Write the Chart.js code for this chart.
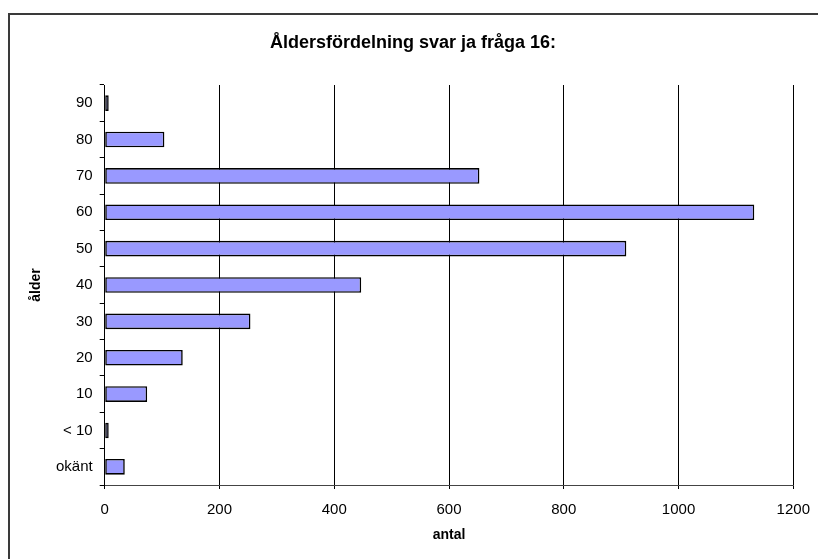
<!DOCTYPE html>
<html>
<head>
<meta charset="utf-8">
<script src="https://cdn.jsdelivr.net/npm/chart.js@4/dist/chart.umd.min.js"></script>
<style>
  html, body { margin: 0; padding: 0; background: #fff; }
  canvas { display: block; }
</style>
</head>
<body>
<canvas id="c" width="818" height="559"></canvas>
<script>
// Age groups, bottom to top
const categories = ['okänt', '< 10', '10', '20', '30', '40', '50', '60', '70', '80', '90'];
// Number of "ja" answers per age group
const antal = [35, 7, 74, 136, 254, 447, 909, 1132, 653, 104, 7];
// Value axis ticks
const xMin = 0, xMax = 1200, xStep = 200;

const FONT = "'Liberation Sans', Arial, sans-serif";

// White page with the dark frame around the chart object
const framePlugin = {
  id: 'frame',
  beforeDraw(chart) {
    const ctx = chart.ctx;
    ctx.save();
    ctx.fillStyle = '#ffffff';
    ctx.fillRect(0, 0, chart.width, chart.height);
    ctx.strokeStyle = '#3a3a3a';
    ctx.lineWidth = 2;
    ctx.strokeRect(9, 14, chart.width + 20, chart.height + 20);
    ctx.restore();
  }
};

new Chart(document.getElementById('c'), {
  type: 'bar',
  data: {
    labels: categories,
    datasets: [{
      data: antal,
      backgroundColor: '#9999ff',
      borderColor: '#000000',
      borderWidth: 1.6,
      borderSkipped: false,
      barPercentage: 0.43,
      categoryPercentage: 1.0
    }]
  },
  options: {
    indexAxis: 'y',
    responsive: false,
    animation: false,
    layout: { padding: { left: 8, right: 0, top: 0, bottom: 0 } },
    plugins: {
      legend: { display: false },
      tooltip: { enabled: false },
      title: {
        display: true,
        text: 'Åldersfördelning svar ja fråga 16:',
        color: '#000',
        font: { family: FONT, size: 18, weight: 'bold', lineHeight: 1.2 },
        padding: { top: 32, bottom: 31.4 }
      }
    },
    scales: {
      x: {
        type: 'linear',
        position: 'bottom',
        min: xMin,
        max: xMax,
        ticks: {
          stepSize: xStep,
          color: '#000',
          padding: 12,
          font: { family: FONT, size: 15 },
          callback: (v) => String(v)
        },
        grid: {
          color: '#000',
          lineWidth: 1,
          drawTicks: true,
          tickLength: 4
        },
        border: { display: true, color: '#444', width: 1 },
        title: {
          display: true,
          text: 'antal',
          color: '#000',
          font: { family: FONT, size: 14, weight: 'bold', lineHeight: 1.2 },
          padding: { top: 0, bottom: 15 }
        },
        afterFit(s) {
          s.height = 74;
          s.paddingLeft = 0;
          s.paddingRight = 0;
        }
      },
      y: {
        type: 'category',
        position: 'left',
        reverse: true,
        ticks: {
          color: '#000',
          padding: 7,
          font: { family: FONT, size: 15 }
        },
        grid: {
          offset: true,
          drawOnChartArea: false,
          drawTicks: true,
          tickLength: 5,
          color: '#000'
        },
        border: { display: true, color: '#000', width: 1 },
        title: {
          display: true,
          text: 'ålder',
          color: '#000',
          font: { family: FONT, size: 14, weight: 'bold', lineHeight: 1.2 },
          padding: { top: 19.6, bottom: 0 }
        },
        afterFit(s) { s.width = 96.7; }
      },
      // empty right-hand spacer so the plot ends short of the frame edge
      yr: {
        type: 'linear',
        position: 'right',
        display: true,
        grid: { display: false },
        border: { display: false },
        ticks: { display: false },
        afterFit(s) { s.width = 24.7; }
      }
    }
  },
  plugins: [framePlugin]
});
</script>
</body>
</html>
